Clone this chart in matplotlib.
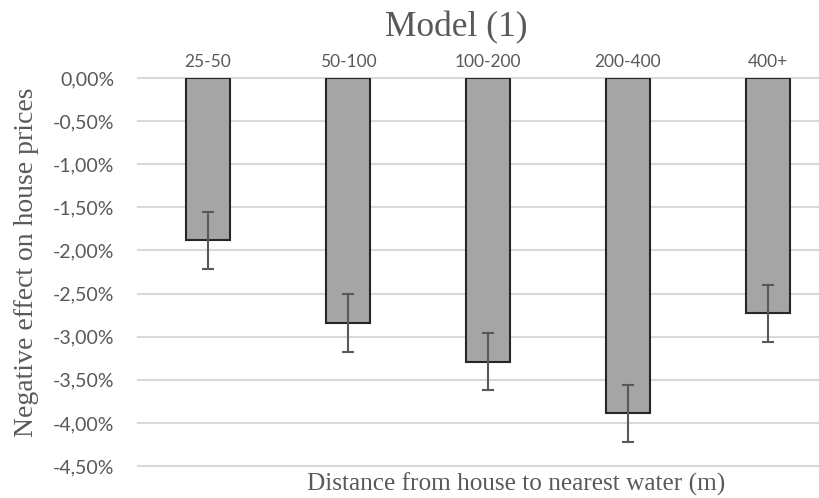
import numpy as np
import matplotlib.pyplot as plt

# data (percent)
categories = ['25-50', '50-100', '100-200', '200-400', '400+']
effect = [-1.88, -2.84, -3.29, -3.89, -2.73]
err = [0.33, 0.335, 0.33, 0.335, 0.33]
yticks = [0, -0.5, -1.0, -1.5, -2.0, -2.5, -3.0, -3.5, -4.0, -4.5]

fig = plt.figure(figsize=(8.2, 4.98), dpi=100)
ax = fig.add_axes([138 / 820, 1 - 466 / 498, 700 / 820, 388 / 498])

x = np.arange(len(categories))
ax.bar(x, effect, width=0.31, color='#a5a5a5', edgecolor='#262626', linewidth=1.5, zorder=3)
ax.errorbar(x, effect, yerr=err, fmt='none', ecolor='#595959', elinewidth=1.5,
            capsize=4.5, capthick=1.5, zorder=4)

ax.set_xlim(-0.5, len(categories) - 0.5)
ax.set_ylim(-4.5, 0)
ax.set_yticks(yticks)
ax.set_yticklabels([('%.2f%%' % v).replace('.', ',') if v != 0 else '0,00%' for v in yticks],
                   family='Lato', fontsize=14, color='#595959')
ax.set_xticks(x)
ax.set_xticklabels(categories, family='Lato', fontsize=12.5, color='#595959')
ax.xaxis.tick_top()
ax.tick_params(axis='both', length=0)
ax.tick_params(axis='x', pad=6)
ax.tick_params(axis='y', pad=17)

for s in ax.spines.values():
    s.set_visible(False)
ax.yaxis.grid(True, color='#d9d9d9', linewidth=1.5, zorder=0)
ax.set_axisbelow(True)
for gl in ax.get_ygridlines():
    gl.set_clip_on(False)

fig.text(0.556, 1 - 28 / 498, 'Model (1)', ha='center', va='center',
         family='Liberation Serif', fontsize=25.5, color='#595959')
fig.text(27 / 820, 1 - 262 / 498, 'Negative effect on house prices', rotation=90,
         ha='center', va='center', family='Liberation Serif', fontsize=20, color='#595959')
fig.text(516 / 820, 1 - 484 / 498, 'Distance from house to nearest water (m)',
         ha='center', va='center', family='Liberation Serif', fontsize=18.2, color='#595959')

fig.savefig('out.png', dpi=100)
